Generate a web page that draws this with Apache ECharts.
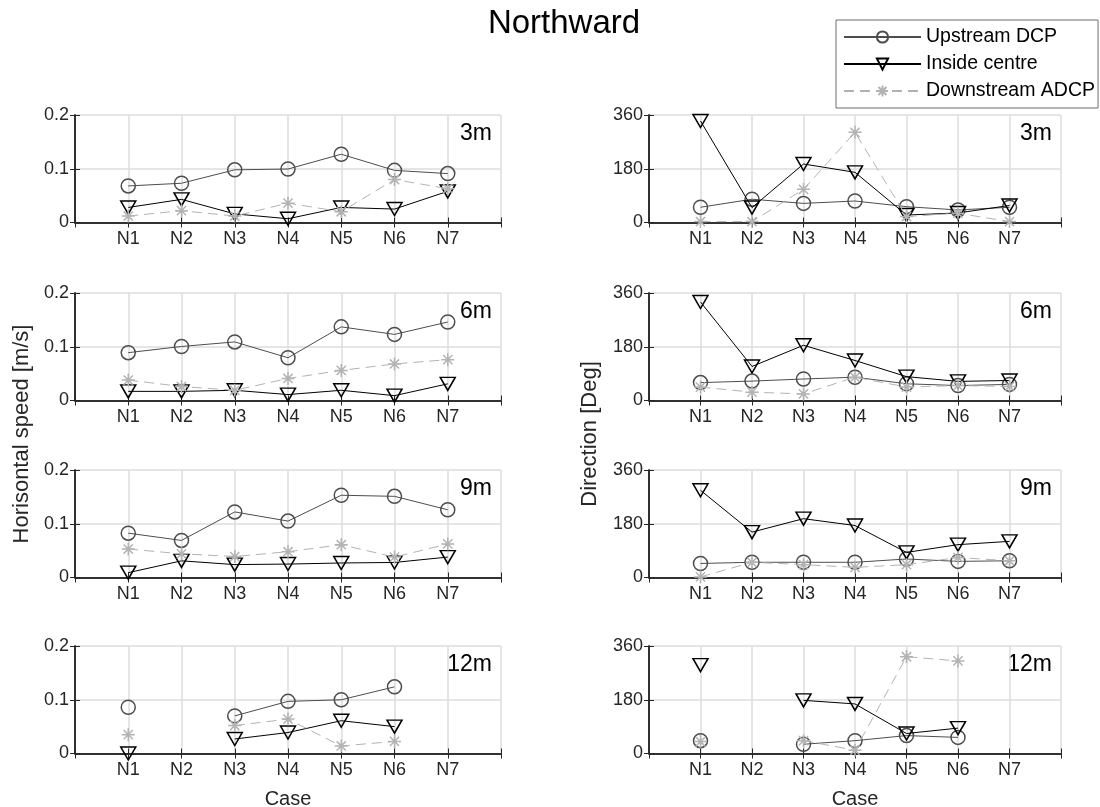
<!DOCTYPE html>
<html>
<head>
<meta charset="utf-8">
<script src="https://cdn.jsdelivr.net/npm/echarts@6/dist/echarts.min.js"></script>
<style>
html,body{margin:0;padding:0;background:#fff}
#c{width:1100px;height:807px}
</style>
</head>
<body>
<div id="c"></div>
<script>
// ---------- data ----------
const categories = ['N1', 'N2', 'N3', 'N4', 'N5', 'N6', 'N7'];
const depths = ['3m', '6m', '9m', '12m'];
const seriesNames = ['Upstream DCP', 'Inside centre', 'Downstream ADCP'];
const speedTicks = [0, 0.1, 0.2];
const dirTicks = [0, 180, 360];

// Horizontal speed [m/s]
const spdUp3m   = [0.068, 0.073, 0.098, 0.0995, 0.127, 0.097, 0.091];
const spdIn3m   = [0.028, 0.043, 0.016, 0.007, 0.028, 0.025, 0.058];
const spdDown3m = [0.012, 0.022, 0.012, 0.036, 0.020, 0.080, 0.063];

const spdUp6m   = [0.089, 0.1005, 0.109, 0.0795, 0.137, 0.123, 0.146];
const spdIn6m   = [0.017, 0.017, 0.019, 0.011, 0.019, 0.009, 0.031];
const spdDown6m = [0.038, 0.026, 0.019, 0.041, 0.056, 0.068, 0.076];

const spdUp9m   = [0.0825, 0.069, 0.122, 0.105, 0.153, 0.151, 0.126];
const spdIn9m   = [0.009, 0.031, 0.024, 0.025, 0.027, 0.028, 0.038];
const spdDown9m = [0.053, 0.044, 0.039, 0.048, 0.061, 0.038, 0.0625];

const spdUp12m   = [0.086, null, 0.070, 0.097, 0.100, 0.124, null];
const spdIn12m   = [0.0, null, 0.027, 0.039, 0.061, 0.050, null];
const spdDown12m = [0.035, null, 0.052, 0.064, 0.014, 0.0225, null];

// Direction [Deg]
const dirUp3m   = [51, 78, 64, 72, 53, 42, 51];
const dirIn3m   = [340, 50, 196, 168, 25, 32, 57];
const dirDown3m = [3, 3, 111, 302, 20, 31, 3];

const dirUp6m   = [60, 65, 72, 78, 56, 50, 54];
const dirIn6m   = [330, 114, 185, 134, 80, 64, 67];
const dirDown6m = [45, 28, 22, 78, 45, 50, 47];

const dirUp9m   = [47, 51, 51, 51, 62, 54, 56];
const dirIn9m   = [292, 152, 197, 174, 84, 110, 121];
const dirDown9m = [2, 51, 43, 34, 43, 67, 56];

const dirUp12m   = [43, null, 31, 43, 60, 54, null];
const dirIn12m   = [296, null, 178, 166, 67, 85, null];
const dirDown12m = [40, null, 43, 11, 324, 310, null];

// ---------- layout / styles ----------
const FONT = '"Liberation Sans", Arial, Helvetica, sans-serif';
const TXT = '#262626';
const speedSets = [
  [spdUp3m, spdIn3m, spdDown3m],
  [spdUp6m, spdIn6m, spdDown6m],
  [spdUp9m, spdIn9m, spdDown9m],
  [spdUp12m, spdIn12m, spdDown12m]
];
const dirSets = [
  [dirUp3m, dirIn3m, dirDown3m],
  [dirUp6m, dirIn6m, dirDown6m],
  [dirUp9m, dirIn9m, dirDown9m],
  [dirUp12m, dirIn12m, dirDown12m]
];
const rowTops = [115, 293, 470, 646];
const rowH = 107.5;
const cols = [{left: 75, width: 426}, {left: 649, width: 412}];

const asterisk = 'path://M0,-10L0,10M-10,0L10,0M-7.07,-7.07L7.07,7.07M-7.07,7.07L7.07,-7.07';
const sStyles = [
  {symbol: 'circle', size: 14, rotate: 0, color: '#4d4d4d', type: 'solid', lw: 1},
  {symbol: 'triangle', size: [15, 13], rotate: 180, color: '#000000', type: 'solid', lw: 1},
  {symbol: asterisk, size: 13, rotate: 0, color: '#b3b3b3', type: [10, 6], lw: 1}
];

const grids = [], xAxes = [], yAxes = [], series = [], graphics = [];
let gi = 0;
for (let r = 0; r < 4; r++) {
  for (let c = 0; c < 2; c++) {
    const col = cols[c];
    grids.push({left: col.left, top: rowTops[r], width: col.width, height: rowH});
    const isSpeed = c === 0;
    const ticks = isSpeed ? speedTicks : dirTicks;
    const ymax = ticks[ticks.length - 1];
    const yint = ticks[1] - ticks[0];
    xAxes.push({
      gridIndex: gi, type: 'value', min: 0, max: 8, interval: 1, position: 'bottom',
      axisLine: {show: true, lineStyle: {color: TXT, width: 1.5}},
      axisTick: {show: true, inside: true, length: 5, lineStyle: {color: TXT, width: 1}},
      axisLabel: {show: true, margin: 8, color: TXT, fontSize: 18, fontFamily: FONT,
        formatter: v => (v >= 1 && v <= categories.length) ? categories[v - 1] : ''},
      splitLine: {show: true, lineStyle: {color: '#dcdcdc', width: 1.5}}
    });
    xAxes.push({
      gridIndex: gi, type: 'value', min: 0, max: 8, interval: 1, position: 'top',
      axisLine: {show: true, lineStyle: {color: TXT, width: 1.5}},
      axisTick: {show: true, inside: true, length: 5, lineStyle: {color: TXT, width: 1}},
      axisLabel: {show: false}, splitLine: {show: false}
    });
    yAxes.push({
      gridIndex: gi, type: 'value', min: 0, max: ymax, interval: yint, position: 'left',
      axisLine: {show: true, lineStyle: {color: TXT, width: 1.5}},
      axisTick: {show: true, inside: true, length: 5, lineStyle: {color: TXT, width: 1}},
      axisLabel: {show: true, margin: 6, color: TXT, fontSize: 18, fontFamily: FONT},
      splitLine: {show: true, lineStyle: {color: '#dcdcdc', width: 1.5}}
    });
    yAxes.push({
      gridIndex: gi, type: 'value', min: 0, max: ymax, interval: yint, position: 'right',
      axisLine: {show: true, lineStyle: {color: TXT, width: 1.5}},
      axisTick: {show: true, inside: true, length: 5, lineStyle: {color: TXT, width: 1}},
      axisLabel: {show: false}, splitLine: {show: false}
    });
    const sets = isSpeed ? speedSets[r] : dirSets[r];
    for (let s = 0; s < 3; s++) {
      const st = sStyles[s];
      series.push({
        name: seriesNames[s], type: 'line',
        xAxisIndex: gi * 2, yAxisIndex: gi * 2,
        data: sets[s].map((v, i) => [i + 1, v === null ? '-' : v]),
        symbol: st.symbol, symbolSize: st.size, symbolRotate: st.rotate,
        showAllSymbol: true, clip: false, animation: false, connectNulls: false,
        lineStyle: {color: st.color, width: st.lw, type: st.type},
        itemStyle: {color: 'rgba(0,0,0,0)', borderColor: st.color, borderWidth: 1.5},
        emphasis: {disabled: true}, z: 3 + s
      });
    }
    graphics.push({
      type: 'text', x: col.left + col.width - 9, y: rowTops[r] + 18.5,
      style: {text: depths[r], font: '23px ' + FONT, fill: '#000', align: 'right', verticalAlign: 'middle'}
    });
    gi++;
  }
}
graphics.push({type: 'text', x: 22, y: 434, rotation: Math.PI / 2,
  style: {text: 'Horisontal speed [m/s]', font: '22px ' + FONT, fill: TXT, align: 'center', verticalAlign: 'middle'}});
graphics.push({type: 'text', x: 590, y: 434, rotation: Math.PI / 2,
  style: {text: 'Direction [Deg]', font: '22px ' + FONT, fill: TXT, align: 'center', verticalAlign: 'middle'}});
graphics.push({type: 'text', x: cols[0].left + cols[0].width / 2, y: 799,
  style: {text: 'Case', font: '20px ' + FONT, fill: TXT, align: 'center', verticalAlign: 'middle'}});
graphics.push({type: 'text', x: cols[1].left + cols[1].width / 2, y: 799,
  style: {text: 'Case', font: '20px ' + FONT, fill: TXT, align: 'center', verticalAlign: 'middle'}});
graphics.push({type: 'text', x: 564, y: 24,
  style: {text: 'Northward', font: '33px ' + FONT, fill: '#000', align: 'center', verticalAlign: 'middle'}});

const option = {
  backgroundColor: '#fff',
  animation: false,
  grid: grids,
  xAxis: xAxes,
  yAxis: yAxes,
  series: series,
  legend: {
    data: seriesNames, orient: 'vertical', left: 836, top: 20,
    itemWidth: 77, itemHeight: 14, itemGap: 7, padding: [7, 3, 7, 7],
    borderColor: '#6e6e6e', borderWidth: 1, backgroundColor: '#fff',
    textStyle: {fontSize: 19.5, color: '#000', fontFamily: FONT, lineHeight: 20},
    selectedMode: false
  },
  graphic: graphics
};
const chart = echarts.init(document.getElementById('c'), null, {renderer: 'canvas'});
chart.setOption(option);
</script>
</body>
</html>
